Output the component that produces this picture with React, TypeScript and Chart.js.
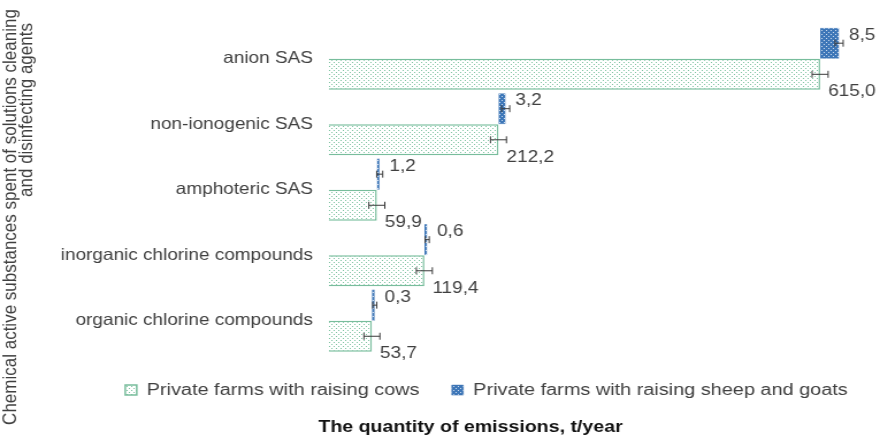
import React, { useEffect, useRef } from 'react';
import { Chart, registerables } from 'chart.js';

Chart.register(...registerables);

// ---- data ----
const categories = [
  'anion SAS',
  'non-ionogenic SAS',
  'amphoteric SAS',
  'inorganic chlorine compounds',
  'organic chlorine compounds',
];
const cowsValues = [615.0, 212.2, 59.9, 119.4, 53.7];
const sheepValues = [8.5, 3.2, 1.2, 0.6, 0.3];
const cowsErrors = [10, 10, 10, 10, 10];
const sheepErrors = [2, 2, 1.5, 1, 1];
const seriesNames = [
  'Private farms with raising cows',
  'Private farms with raising sheep and goats',
];
const xTitle = 'The quantity of emissions, t/year';
const yTitle = [
  'Chemical active substances spent of solutions cleaning',
  'and disinfecting agents',
];
// the small series is drawn exaggerated, starting where the first series ends
const SHEEP_DISPLAY_SCALE = 2.8;

// ---- layout ----
const STRETCH = 1.15;
const PAGE_W = 880;
const PAGE_H = 437;
const CANVAS_W = Math.round(PAGE_W / STRETCH);
const FONT = '"Liberation Sans", Arial, sans-serif';
const TEXT = '#404040';

function makePattern(bg: string, dot: string, dots: number[][], size: number) {
  const c = document.createElement('canvas');
  c.width = size;
  c.height = size;
  const x = c.getContext('2d')!;
  x.fillStyle = bg;
  x.fillRect(0, 0, size, size);
  x.fillStyle = dot;
  dots.forEach(([a, b]) => x.fillRect(a, b, 1, 1));
  const ctx = document.createElement('canvas').getContext('2d')!;
  return ctx.createPattern(c, 'repeat')!;
}

const fmt = (v: number) => v.toFixed(1).replace('.', ',');

export default function App() {
  const ref = useRef<HTMLCanvasElement>(null);

  useEffect(() => {
    document.body.style.margin = '0';
    const canvas = ref.current!;
    const green = makePattern('#ffffff', '#7fc4a2', [[0, 0], [2, 2]], 4);
    const blue = makePattern('#3e77b8', '#d0deef', [[0, 0], [2, 2]], 4);

    const sheepBars = sheepValues.map((v, i) => [
      cowsValues[i],
      cowsValues[i] + v * SHEEP_DISPLAY_SCALE,
    ]);

    const annot = {
      id: 'annot',
      afterDatasetsDraw(chart: any) {
        const ctx = chart.ctx;
        const xs = chart.scales.x;
        const unit = (v: number) => xs.getPixelForValue(v) - xs.getPixelForValue(0);
        const drawErr = (cx: number, half: number, cy: number) => {
          ctx.beginPath();
          ctx.moveTo(cx - half, cy);
          ctx.lineTo(cx + half, cy);
          ctx.moveTo(cx - half, cy - 3.5);
          ctx.lineTo(cx - half, cy + 3.5);
          ctx.moveTo(cx + half, cy - 3.5);
          ctx.lineTo(cx + half, cy + 3.5);
          ctx.stroke();
        };
        const bMeta = chart.getDatasetMeta(0);
        const gMeta = chart.getDatasetMeta(1);
        ctx.save();
        ctx.strokeStyle = '#3a3a3a';
        ctx.lineWidth = 1;
        ctx.fillStyle = TEXT;
        ctx.font = `16.5px ${FONT}`;
        ctx.textAlign = 'left';
        ctx.textBaseline = 'middle';
        categories.forEach((_, i) => {
          const g = gMeta.data[i];
          const b = bMeta.data[i];
          drawErr(g.x, unit(cowsErrors[i]), g.y);
          drawErr(b.x, unit(sheepErrors[i] * SHEEP_DISPLAY_SCALE) / 1.1, b.y);
          ctx.fillText(fmt(cowsValues[i]), g.x + 7, g.y + 17.5);
          ctx.fillText(fmt(sheepValues[i]), b.x + 8.5, b.y - 8);
        });
        ctx.restore();
      },
      afterDraw(chart: any) {
        const ctx = chart.ctx;
        ctx.save();
        ctx.fillStyle = TEXT;
        ctx.textAlign = 'center';
        ctx.textBaseline = 'middle';
        ctx.font = `17px ${FONT}`;
        const lines: [string, number, number][] = [
          [yTitle[0], 9.5, 217],
          [yTitle[1], 23.5, 110],
        ];
        lines.forEach(([t, x, y]) => {
          ctx.save();
          ctx.translate(x, y);
          ctx.rotate(-Math.PI / 2);
          ctx.fillText(t, 0, 0);
          ctx.restore();
        });
        ctx.fillStyle = '#111111';
        ctx.font = `bold 17px ${FONT}`;
        ctx.fillText(xTitle, 409, 427);
        ctx.restore();
      },
    };

    const chart = new Chart(canvas, {
      type: 'bar',
      data: {
        labels: categories,
        datasets: [
          {
            label: seriesNames[1],
            data: sheepBars as any,
            backgroundColor: blue as any,
            borderColor: '#3a6fae',
            borderWidth: 0.5,
            categoryPercentage: 0.95,
            barPercentage: 1,
            minBarLength: 2.5,
          },
          {
            label: seriesNames[0],
            data: cowsValues,
            backgroundColor: green as any,
            borderColor: '#78bd9c',
            borderWidth: 1.5,
            categoryPercentage: 0.95,
            barPercentage: 1,
          },
        ],
      },
      options: {
        indexAxis: 'y',
        responsive: false,
        animation: false,
        layout: { padding: { left: 0, right: 0, top: 26, bottom: 28.25 } },
        scales: {
          x: { display: false, min: 0, max: 690 },
          y: {
            grid: { display: false, drawTicks: false },
            border: { display: false },
            ticks: { padding: 14, color: TEXT, font: { family: FONT, size: 16.5 } },
            afterFit(s: any) {
              s.width = 286;
            },
          },
        },
        plugins: {
          legend: {
            position: 'bottom',
            align: 'end',
            labels: {
              boxWidth: 10,
              boxHeight: 10,
              padding: 28,
              color: TEXT,
              font: { family: FONT, size: 17.3 },
              sort: (a: any, b: any) => b.datasetIndex - a.datasetIndex,
            },
          },
          tooltip: { enabled: false },
        },
      },
      plugins: [annot],
    });
    return () => chart.destroy();
  }, []);

  return (
    <canvas
      ref={ref}
      width={CANVAS_W}
      height={PAGE_H}
      style={{ display: 'block', width: PAGE_W + 'px', height: PAGE_H + 'px' }}
    />
  );
}
